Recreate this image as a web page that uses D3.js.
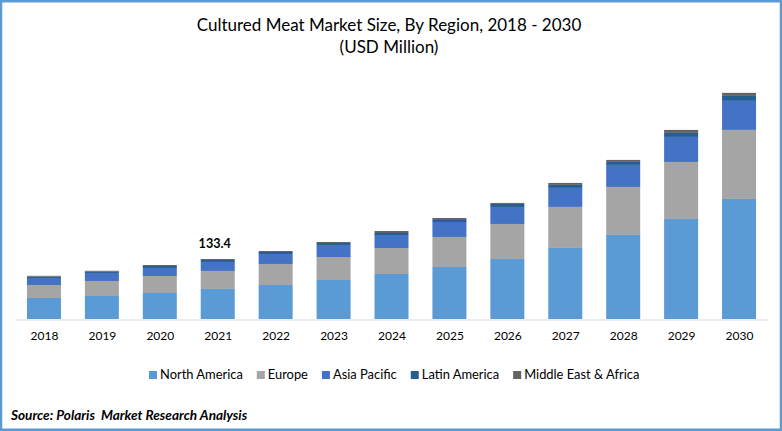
<!DOCTYPE html>
<html><head><meta charset="utf-8">
<script src="https://cdn.jsdelivr.net/npm/d3@7"></script>
<style>html,body{margin:0;padding:0;background:#fff}svg{display:block}text{font-family:Lato,"Open Sans",sans-serif;fill:#000}</style>
</head><body><svg id="c" width="782" height="431"></svg>
<script>
const years = ["2018","2019","2020","2021","2022","2023","2024","2025","2026","2027","2028","2029","2030"];
const regions = ["North America","Europe","Asia Pacific","Latin America","Middle East & Africa"];
const colors = ["#5b9bd5","#a5a5a5","#4472c4","#255e91","#636363"];
const northAmerica = [46.7,51.1,57.8,66.8,75.6,86.7,100,115.6,133.4,157.9,186.8,222.3,266.8];
const europe = [28.9,33.4,37.8,40,46.7,51.1,57.8,66.7,77.8,91.2,106.7,126.7,153.4];
const asiaPacific = [15.6,17.8,17.8,20,22.2,26.7,28.9,33.3,37.8,42.2,48.9,55.6,64.5];
const latinAmerica = [2.7,2.7,4.4,4.4,4.4,4.4,4.4,4.4,6.7,6.7,6.7,8.9,11.1];
const middleEastAfrica = [2,2.2,2.2,2.2,2.2,2.2,4.4,4.4,2.2,4.4,4.4,6.7,6.7];
const annotatedYear = "2021";
const annotatedValue = "133.4";
const titleLines = ["Cultured Meat Market Size, By Region, 2018 - 2030","(USD Million)"];
const sourceText = "Source: Polaris  Market Research Analysis";

const series = [northAmerica,europe,asiaPacific,latinAmerica,middleEastAfrica];
const rows = years.map((y,i)=>{const r={year:y};regions.forEach((k,j)=>r[k]=series[j][i]);return r;});
const svg = d3.select("#c");
svg.append("rect").attr("x",1).attr("y",1.25).attr("width",780).attr("height",428.5)
  .attr("fill","#fff").attr("stroke","#5b9bd5").attr("stroke-width",2.5);

const x = d3.scaleBand().domain(years).range([15,768]).paddingInner(0.413).paddingOuter(0.2065);
const y = d3.scaleLinear().domain([0,600]).range([319,49]);
const stacked = d3.stack().keys(regions)(rows);

svg.append("g").selectAll("g").data(stacked).join("g").attr("fill",(d,i)=>colors[i])
  .selectAll("rect").data(d=>d).join("rect")
  .attr("x",d=>x(d.data.year)).attr("width",x.bandwidth())
  .attr("y",d=>y(d[1])).attr("height",d=>y(d[0])-y(d[1]));

const ax = svg.append("g").attr("transform","translate(0,319.5)")
  .call(d3.axisBottom(x).tickSize(0).tickPadding(12));
ax.select(".domain").attr("stroke","#d9d9d9").attr("stroke-width",1.2);
ax.selectAll("text").attr("font-size",12).attr("dx",0.5).style("font-family","Lato,sans-serif");

const top2021 = d3.sum(series,s=>s[years.indexOf(annotatedYear)]);
svg.append("text").attr("x",x(annotatedYear)+x.bandwidth()/2-3).attr("y",y(top2021)-11)
  .attr("text-anchor","middle").attr("font-size",12.6).attr("font-weight",700).text(annotatedValue);

titleLines.forEach((t,i)=>svg.append("text").attr("x",389).attr("y",31+i*22)
  .attr("text-anchor","middle").attr("font-size",17).text(t));

const lg = svg.append("g");
let lx = 149;
regions.forEach((r,i)=>{
  lg.append("rect").attr("x",lx).attr("y",371).attr("width",8).attr("height",8).attr("fill",colors[i]);
  const t = lg.append("text").attr("x",lx+11).attr("y",379).attr("font-size",12.9).text(r);
  lx += 11 + t.node().getComputedTextLength() + 14;
});

svg.append("text").attr("x",11).attr("y",420).attr("font-size",13.6).attr("font-weight",700)
  .attr("font-style","italic").attr("xml:space","preserve").style("white-space","pre").text(sourceText);
</script></body></html>
